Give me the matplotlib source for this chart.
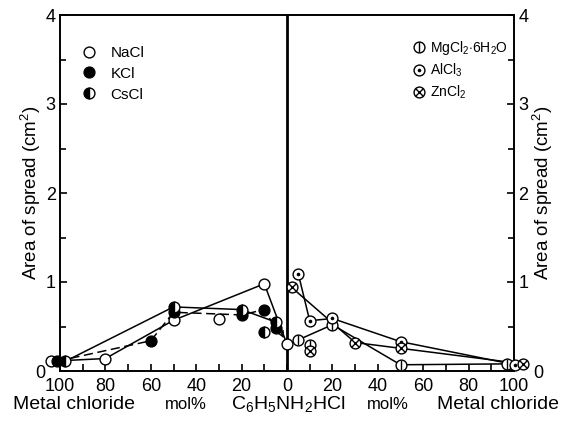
import numpy as np
import matplotlib
matplotlib.use("Agg")
import matplotlib.pyplot as plt
from matplotlib.transforms import ScaledTranslation

plt.rcParams['font.family'] = ['Liberation Sans', 'DejaVu Sans']
plt.rcParams['mathtext.fontset'] = 'custom'
plt.rcParams['mathtext.rm'] = 'Liberation Sans'
plt.rcParams['mathtext.it'] = 'Liberation Sans:italic'
plt.rcParams['mathtext.bf'] = 'Liberation Sans:bold'

# spread area of pure C6H5NH2HCl (0 mol% metal chloride)
pure_area = 0.30

# left half: alkali chlorides, mol% metal chloride
nacl_mol = [100, 80, 50, 30, 10]
nacl_area = [0.11, 0.14, 0.57, 0.58, 0.98]
kcl_mol = [100, 60, 50, 20, 10, 5]
kcl_area = [0.11, 0.34, 0.66, 0.63, 0.69, 0.48]
cscl_mol = [100, 50, 20, 10, 5]
cscl_area = [0.11, 0.72, 0.69, 0.44, 0.55]

# right half: polyvalent chlorides
mgcl2_mol = [5, 10, 20, 50, 100]
mgcl2_area = [0.35, 0.29, 0.52, 0.07, 0.08]
alcl3_mol = [5, 10, 20, 50, 100]
alcl3_area = [1.09, 0.565, 0.59, 0.33, 0.07]
zncl2_mol = [2, 10, 30, 50, 100]
zncl2_area = [0.94, 0.22, 0.32, 0.255, 0.08]

# which points the hand-drawn curves pass through
nacl_curve = [0, 1, 2, 4]
kcl_curve = [0, 1, 2, 3, 4, 5]
cscl_curve = [0, 1, 2, 4]
mgcl2_curve = [0, 2, 3, 4]
alcl3_curve = [0, 1, 2, 3, 4]
zncl2_curve = [0, 2, 3, 4]

MS = 7.8

# (label, side, mol, area, marker kind, curve idx, linestyle, joins pure, nudge at 100 %)
series = [
    ('NaCl', -1, nacl_mol, nacl_area, 'open', nacl_curve, '-', True, -4.0),
    ('KCl', -1, kcl_mol, kcl_area, 'filled', kcl_curve, (0, (6, 3)), False, -1.3),
    ('CsCl', -1, cscl_mol, cscl_area, 'half', cscl_curve, '-', False, 2.4),
    (r'MgCl$_2$$\cdot$6H$_2$O', 1, mgcl2_mol, mgcl2_area, 'bar', mgcl2_curve, '-', True, -3.1),
    (r'AlCl$_3$', 1, alcl3_mol, alcl3_area, 'dot', alcl3_curve, '-', False, 0.6),
    (r'ZnCl$_2$', 1, zncl2_mol, zncl2_area, 'cross', zncl2_curve, '-', False, 4.0),
]


def marker_layers(kind):
    base = dict(marker='o', ms=MS, mec='k', mew=1.0, mfc='white', ls='none')
    if kind == 'open':
        return [base]
    if kind == 'filled':
        return [dict(base, mfc='k')]
    if kind == 'half':
        return [dict(base, mfc='k', fillstyle='left', markerfacecoloralt='white')]
    if kind == 'bar':
        return [base, dict(marker='|', ms=MS, mec='k', mew=1.0, ls='none')]
    if kind == 'dot':
        return [base, dict(marker='o', ms=2.6, mfc='k', mec='k', mew=0, ls='none')]
    return [base, dict(marker='x', ms=MS * 0.68, mec='k', mew=1.0, ls='none')]


fig = plt.figure(figsize=(5.66, 4.21), dpi=100)
ax = fig.add_axes([60 / 566, 50 / 421, 454 / 566, 356 / 421])
ax.set_xlim(-100, 100)
ax.set_ylim(0, 4)

handles = {}
for k, (label, side, mol, area, kind, curve, ls, joins, nudge) in enumerate(series):
    pos = np.array([side * m + (nudge if m == 100 else 0) for m in mol])
    area = np.array(area)
    cx = list(pos[curve])
    cy = list(area[curve])
    if joins:
        if side < 0:
            cx, cy = cx + [0], cy + [pure_area]
        else:
            cx, cy = [0] + cx, [pure_area] + cy
    ax.plot(cx, cy, color='k', lw=1.1, ls=ls, zorder=2)
    layers = []
    for i, layer in enumerate(marker_layers(kind)):
        h, = ax.plot(pos, area, clip_on=False, zorder=4 + k * 0.1 + i * 0.01, **layer)
        layers.append(h)
    handles[label] = tuple(layers)

# pure anilinium chloride
ax.plot([0], [pure_area], clip_on=False, zorder=5, **marker_layers('open')[0])
ax.annotate('', xy=(0, pure_area), xytext=(-cscl_mol[-1], cscl_area[-1]),
            arrowprops=dict(arrowstyle='->', lw=1.0, color='k', shrinkA=5, shrinkB=5),
            zorder=2)

ax.axvline(0, color='k', lw=2.0, zorder=2.5)

for s in ax.spines.values():
    s.set_linewidth(1.4)

xt = np.arange(-100, 101, 10)
ax.set_xticks(xt)
ax.set_xticklabels([str(abs(v)) if v % 20 == 0 else '' for v in xt], fontsize=13)
ax.set_yticks([0, 1, 2, 3, 4])
ax.set_yticks(np.arange(0.5, 4, 1.0), minor=True)
ax.set_yticklabels(['0', '1', '2', '3', '4'], fontsize=13)
ax.tick_params(which='both', direction='in', width=1.2, right=True, labelright=True)
ax.tick_params(which='major', length=5)
ax.tick_params(which='minor', length=4)
ax.tick_params(axis='x', pad=5)
ax.tick_params(axis='y', pad=3)

# push the "0" labels clear of the markers at 100 %
t0 = ax.yaxis.get_major_ticks()[0]
t0.label1.set_transform(t0.label1.get_transform() + ScaledTranslation(-0.1, 0, fig.dpi_scale_trans))
t0.label2.set_transform(t0.label2.get_transform() + ScaledTranslation(0.15, 0, fig.dpi_scale_trans))

for xf in (0.054, 0.9585):
    fig.text(xf, 0.5416, 'Area of spread (cm$^2$)', rotation=90, ha='center', va='center',
             fontsize=13.5)

fig.text(0.13, 0.04, 'Metal chloride', ha='center', va='center', fontsize=14)
fig.text(0.3286, 0.04, 'mol%', ha='center', va='center', fontsize=12)
fig.text(0.509, 0.04, r'C$_6$H$_5$NH$_2$HCl', ha='center', va='center', fontsize=14)
fig.text(0.6846, 0.04, 'mol%', ha='center', va='center', fontsize=12)
fig.text(0.88, 0.04, 'Metal chloride', ha='center', va='center', fontsize=14)

names = [s[0] for s in series]
leg1 = ax.legend([handles[n] for n in names[:3]], names[:3], loc='upper left',
                 bbox_to_anchor=(0.047, 0.913), frameon=False, borderpad=0, borderaxespad=0,
                 handlelength=1.0, handletextpad=0.9, labelspacing=0.45,
                 prop={'size': 11})
ax.add_artist(leg1)
ax.legend([handles[n] for n in names[3:]], names[3:], loc='upper left',
          bbox_to_anchor=(0.774, 0.933), frameon=False, borderpad=0, borderaxespad=0,
          handlelength=1.1, handletextpad=0.25, labelspacing=0.35,
          prop={'size': 10})

fig.savefig('out.png', dpi=100)
